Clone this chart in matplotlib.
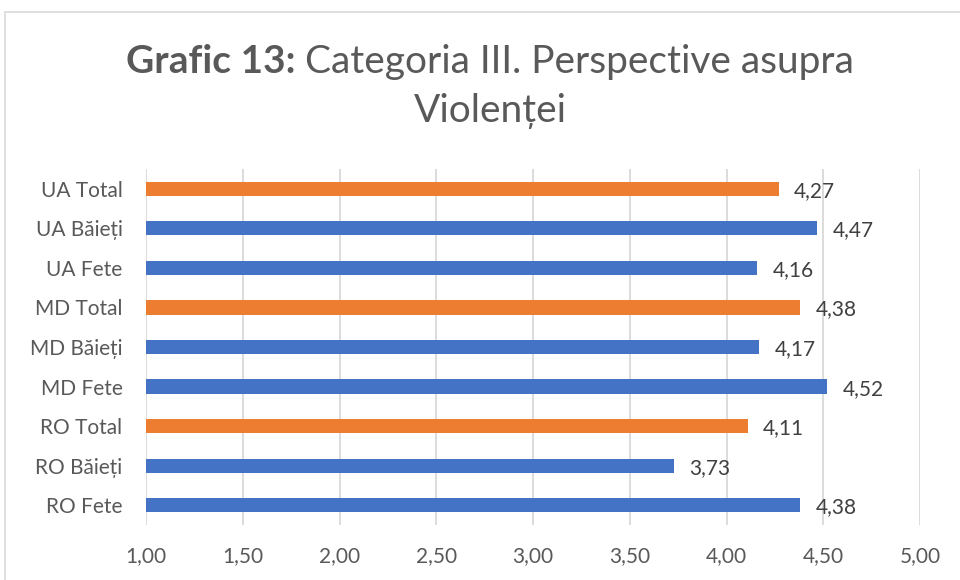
import matplotlib
matplotlib.use("Agg")
import matplotlib.pyplot as plt
from matplotlib.patches import Rectangle

plt.rcParams['font.family'] = ['Lato', 'DejaVu Sans']

categories = ["RO Fete", "RO Băieți", "RO Total",
              "MD Fete", "MD Băieți", "MD Total",
              "UA Fete", "UA Băieți", "UA Total"]
values = [4.38, 3.73, 4.11, 4.52, 4.17, 4.38, 4.16, 4.47, 4.27]
is_total = [False, False, True, False, False, True, False, False, True]
xticks = [1.0, 1.5, 2.0, 2.5, 3.0, 3.5, 4.0, 4.5, 5.0]

BLUE = "#4472C4"
ORANGE = "#ED7D31"
colors = [ORANGE if t else BLUE for t in is_total]

W, H = 960, 580
fig = plt.figure(figsize=(W / 100, H / 100), dpi=100)
fig.patch.set_facecolor("white")

# chart border (right and bottom edges fall outside the image)
fig.add_artist(Rectangle((5 / W, -0.2), 1.2, 1.2 - 12 / H, transform=fig.transFigure,
                         fill=False, edgecolor="#D9D9D9", linewidth=1.2))

left, right, top, bottom = 146, 920, 169, 525
ax = fig.add_axes([left / W, 1 - bottom / H, (right - left) / W, (bottom - top) / H])

y = list(range(len(categories)))
ax.barh(y, values, height=0.36, color=colors, zorder=3)
ax.set_xlim(1.0, 5.0)
ax.set_ylim(-0.5, len(categories) - 0.5)
ax.set_xticks(xticks)
ax.set_xticklabels([f"{v:.2f}".replace(".", ",") for v in xticks])
ax.set_yticks(y)
ax.set_yticklabels(categories)
ax.grid(axis="x", color="#D9D9D9", linewidth=1.3, zorder=0)
ax.tick_params(axis="both", length=0, labelsize=15, colors="#595959")
ax.tick_params(axis="x", pad=15)
ax.tick_params(axis="y", pad=17)
for s in ax.spines.values():
    s.set_visible(False)

for yi, v in zip(y, values):
    ax.annotate(f"{v:.2f}".replace(".", ","), xy=(v, yi), xytext=(11, -1.5),
                textcoords="offset points", va="center", ha="left",
                fontsize=15, color="#404040")

t1a = fig.text(0, 0, "Grafic 13:", fontsize=28, fontweight="bold", color="#595959")
t1b = fig.text(0, 0, " Categoria III. Perspective asupra", fontsize=28, color="#595959")
fig.canvas.draw()
r = fig.canvas.get_renderer()
wa = t1a.get_window_extent(r).width
wb = t1b.get_window_extent(r).width
cx = 490
x0 = cx - (wa + wb) / 2
ybase = 1 - 73 / H
t1a.set_position((x0 / W, ybase))
t1b.set_position(((x0 + wa) / W, ybase))
fig.text(cx / W, 1 - 122 / H, "Violenței", fontsize=28, color="#595959", ha="center")

fig.savefig("out.png", dpi=100)
